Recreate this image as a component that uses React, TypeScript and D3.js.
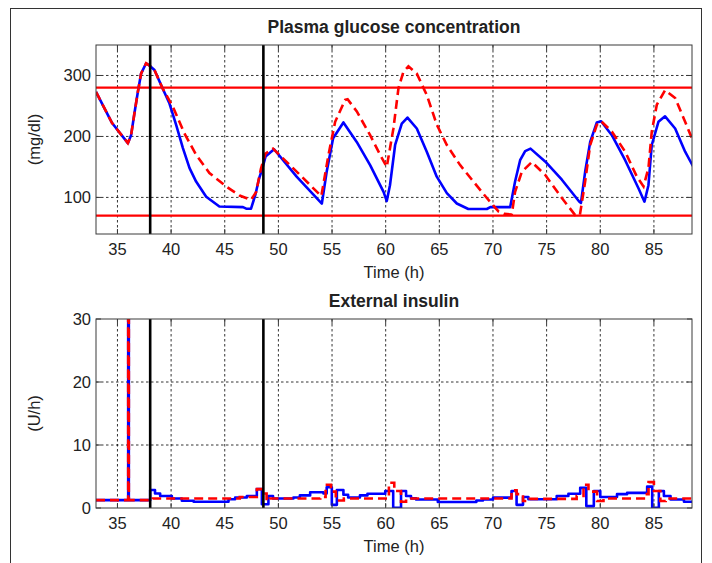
import React from 'react';
import * as d3 from 'd3';

const timeDomain: [number, number] = [33, 88.55];
const timeTicks = [35, 40, 45, 50, 55, 60, 65, 70, 75, 80, 85];
const glucoseDomain: [number, number] = [40, 350];
const glucoseTicks = [100, 200, 300];
const insulinDomain: [number, number] = [0, 30];
const insulinTicks = [0, 10, 20, 30];
const glucoseLimits = [70, 280];
const eventTimes = [38.05, 48.6];

const glucoseBlue: [number, number][] = [
  [33, 273], [34.5, 222], [35.97, 189], [36.27, 202], [36.6, 240], [36.9, 273], [37.2, 303], [37.67, 320],
  [38.0, 316], [38.45, 309], [39.2, 279], [39.85, 254], [40.47, 219], [41.1, 181], [41.72, 148], [42.33, 126],
  [43.27, 101], [44.5, 85], [46.7, 84], [47.0, 81.5], [47.45, 81.5], [47.85, 104], [48.2, 131], [48.5, 147],
  [48.8, 167], [49.6, 179], [51.7, 134], [54.05, 90], [54.5, 142], [55.1, 197], [56.06, 223], [57.3, 191],
  [58.55, 153], [59.8, 109], [60.1, 94], [60.4, 120], [60.88, 186], [61.5, 221], [62.03, 231], [62.9, 213],
  [63.83, 175], [64.76, 134], [65.7, 107], [66.63, 90], [67.7, 81], [69.43, 81], [69.75, 84], [71.6, 84],
  [72.06, 126], [72.53, 161], [73.0, 176], [73.5, 180], [74.86, 159], [76.42, 129], [78.05, 93], [78.2, 91],
  [78.59, 142], [79.06, 191], [79.68, 223], [80.08, 225], [81.08, 202], [82.32, 161], [83.56, 115], [84.12, 93],
  [84.49, 120], [84.8, 186], [85.42, 224], [86.04, 233], [86.98, 213], [87.91, 175], [88.68, 150],
];

const glucoseRed: [number, number][] = [
  [33, 273], [34.5, 222], [35.97, 189], [36.27, 202], [36.6, 240], [36.9, 273], [37.2, 303], [37.67, 320],
  [38.0, 316], [38.45, 309], [39.2, 279], [40.16, 249], [41.24, 205], [42.33, 170], [43.57, 140], [45.13, 118],
  [46.38, 103], [47.45, 96], [47.93, 109], [48.37, 147], [48.8, 172], [49.5, 180], [51.72, 142], [54.0, 102],
  [54.67, 170], [55.29, 224], [56.22, 260], [56.45, 261], [57.31, 241], [58.55, 202], [59.48, 170], [60.1, 150],
  [60.72, 213], [61.19, 279], [61.65, 306], [62.12, 315], [62.9, 303], [63.83, 268], [64.77, 219], [65.7, 186],
  [66.94, 153], [68.18, 126], [69.43, 99], [70.51, 77], [71.05, 73], [71.75, 72], [72.06, 109], [72.69, 142],
  [73.62, 158], [74.86, 137], [76.42, 99], [77.66, 71], [78.1, 71], [78.59, 126], [79.06, 186], [79.68, 219],
  [80.08, 225], [81.08, 208], [82.32, 175], [83.41, 134], [84.03, 118], [84.49, 148], [84.8, 208], [85.27, 252],
  [86.04, 276], [86.98, 263], [87.91, 224], [88.68, 191],
];

const insulinBlue: [number, number][] = [
  [33, 1.25], [36.0, 60], [36.06, 1.25], [38.05, 2.86], [38.5, 2.3], [38.98, 1.9], [40.07, 1.5], [41.0, 1.16],
  [42.1, 1.0], [45.35, 1.4], [45.97, 1.66], [47.06, 1.9], [47.99, 3.0], [48.46, 0.6], [49.07, 1.9], [49.5, 1.5],
  [51.4, 1.66], [52.0, 2.0], [52.96, 2.5], [54.2, 2.3], [54.5, 3.3], [54.98, 0.5], [55.45, 2.86], [56.06, 2.1],
  [56.5, 1.66], [57.6, 2.0], [58.3, 2.27], [59.96, 2.7], [60.7, 0.05], [61.43, 2.7], [61.9, 1.9], [62.36, 1.53],
  [62.83, 1.36], [64.86, 0.95], [68.45, 1.2], [69.07, 1.36], [70.01, 1.65], [71.73, 2.7], [72.2, 0.5], [72.8, 1.75],
  [73.3, 1.4], [75.94, 1.9], [77.03, 2.27], [78.13, 3.2], [78.7, 0.3], [79.4, 2.7], [80.0, 1.75], [81.56, 2.2],
  [82.5, 2.4], [84.37, 3.4], [84.84, 0.05], [85.46, 2.7], [85.93, 1.9], [86.55, 1.36], [87.8, 1.0], [88.6, 1.0],
];

const insulinRed: [number, number][] = [
  [33, 1.25], [36.0, 60], [36.06, 1.25], [38.3, 1.5], [46.4, 1.75], [47.99, 3.0], [48.5, 2.3], [48.9, 1.2],
  [49.2, 1.5], [53.9, 1.75], [54.4, 3.7], [54.9, 2.6], [55.35, 1.2], [56.1, 1.5], [60.3, 4.0], [60.8, 2.7],
  [61.43, 1.0], [61.9, 1.5], [71.73, 2.8], [72.2, 2.2], [72.8, 1.1], [73.44, 1.45], [77.8, 1.9], [78.44, 3.7],
  [78.9, 2.6], [79.7, 1.1], [80.3, 1.5], [84.06, 2.2], [84.5, 4.1], [85.0, 2.7], [85.6, 1.1], [86.1, 1.5],
  [88.6, 1.5],
];

const FONT = "'Liberation Sans', Arial, Helvetica, sans-serif";
const X0 = 96, X1 = 692;

type PanelProps = {
  id: string;
  top: number;
  bottom: number;
  yDomain: [number, number];
  yTicks: number[];
  title: string;
  yLabel: string;
  blue: [number, number][];
  red: [number, number][];
  step: boolean;
  limits?: number[];
};

function Panel(p: PanelProps) {
  const x = d3.scaleLinear().domain(timeDomain).range([X0, X1]);
  const y = d3.scaleLinear().domain(p.yDomain).range([p.bottom, p.top]);
  const curve = p.step ? d3.curveStepAfter : d3.curveLinear;
  const line = d3.line<[number, number]>().x(d => x(d[0])).y(d => y(d[1])).curve(curve);
  const tick = 5;
  const axisColor = '#3a3a3a';
  return (
    <g>
      <defs>
        <clipPath id={p.id}>
          <rect x={X0} y={p.top} width={X1 - X0} height={p.bottom - p.top} />
        </clipPath>
      </defs>
      <rect x={X0} y={p.top} width={X1 - X0} height={p.bottom - p.top} fill="#fff" />
      {timeTicks.map(t => (
        <line key={'gx' + t} x1={x(t)} x2={x(t)} y1={p.top} y2={p.bottom} stroke="#000" strokeWidth={0.8} strokeDasharray="2.5,2.5" />
      ))}
      {p.yTicks.filter(v => v > p.yDomain[0] && v < p.yDomain[1]).map(v => (
        <line key={'gy' + v} x1={X0} x2={X1} y1={y(v)} y2={y(v)} stroke="#000" strokeWidth={0.8} strokeDasharray="2.5,2.5" />
      ))}
      <g clipPath={`url(#${p.id})`}>
        {(p.limits || []).map(v => (
          <line key={'lim' + v} x1={X0} x2={X1} y1={y(v)} y2={y(v)} stroke="#ff0000" strokeWidth={2.2} />
        ))}
        <path d={line(p.blue) || ''} fill="none" stroke="#0000ff" strokeWidth={2.6} strokeLinejoin="round" />
        <path d={line(p.red) || ''} fill="none" stroke="#ff0000" strokeWidth={2.6} strokeDasharray="9,5" />
        {eventTimes.map(t => (
          <line key={'ev' + t} x1={x(t)} x2={x(t)} y1={p.top} y2={p.bottom} stroke="#000" strokeWidth={2.6} />
        ))}
      </g>
      {timeTicks.map(t => (
        <g key={'tx' + t}>
          <line x1={x(t)} x2={x(t)} y1={p.bottom} y2={p.bottom - tick} stroke={axisColor} />
          <line x1={x(t)} x2={x(t)} y1={p.top} y2={p.top + tick} stroke={axisColor} />
          <text x={x(t)} y={p.bottom + 21} textAnchor="middle" fontFamily={FONT} fontSize={16.5} fill="#222">{t}</text>
        </g>
      ))}
      {p.yTicks.map(v => (
        <g key={'ty' + v}>
          <line x1={X0} x2={X0 + tick} y1={y(v)} y2={y(v)} stroke={axisColor} />
          <line x1={X1} x2={X1 - tick} y1={y(v)} y2={y(v)} stroke={axisColor} />
          <text x={X0 - 5} y={y(v) + 6} textAnchor="end" fontFamily={FONT} fontSize={16.5} fill="#222">{v}</text>
        </g>
      ))}
      <rect x={X0} y={p.top} width={X1 - X0} height={p.bottom - p.top} fill="none" stroke={axisColor} strokeWidth={1} />
      <text x={(X0 + X1) / 2} y={p.top - 12} textAnchor="middle" fontFamily={FONT} fontSize={17.5} fontWeight="bold" fill="#222">{p.title}</text>
      <text x={(X0 + X1) / 2} y={p.bottom + 44} textAnchor="middle" fontFamily={FONT} fontSize={16.5} fill="#222">Time (h)</text>
      <text transform={`translate(40, ${(p.top + p.bottom) / 2}) rotate(-90)`} textAnchor="middle" fontFamily={FONT} fontSize={16.5} fill="#222">{p.yLabel}</text>
    </g>
  );
}

export default function App() {
  return (
    <svg width={712} height={563} style={{ position: 'absolute', left: 0, top: 0, background: '#fff' }}>
      <rect x={0} y={0} width={712} height={563} fill="#fff" />
      <rect x={10.5} y={8.5} width={691} height={620} fill="none" stroke="#333" strokeWidth={1} />
      <Panel id="clipG" top={45} bottom={234} yDomain={glucoseDomain} yTicks={glucoseTicks}
        title="Plasma glucose concentration" yLabel="(mg/dl)" blue={glucoseBlue} red={glucoseRed}
        step={false} limits={glucoseLimits} />
      <Panel id="clipI" top={319} bottom={508} yDomain={insulinDomain} yTicks={insulinTicks}
        title="External insulin" yLabel="(U/h)" blue={insulinBlue} red={insulinRed} step={true} />
    </svg>
  );
}
